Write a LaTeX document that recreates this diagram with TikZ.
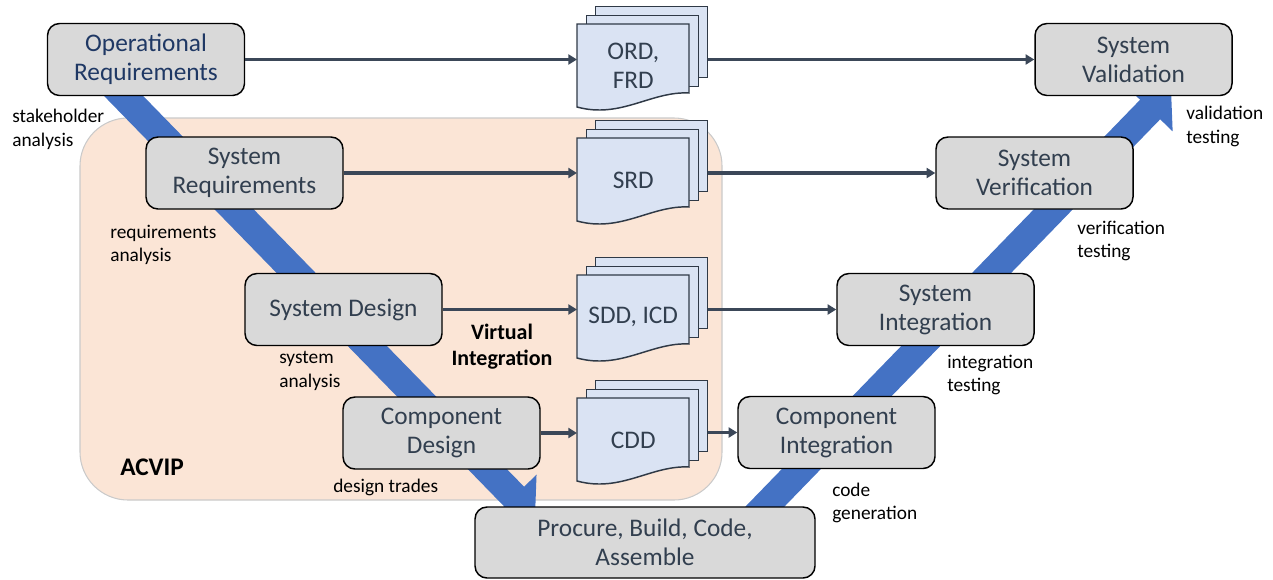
\documentclass[tikz,border=0pt]{standalone}
\usepackage{fontspec}
\setmainfont{Carlito}
\usetikzlibrary{arrows.meta}

\definecolor{boxgray}{HTML}{D9D9D9}
\definecolor{boxtext}{HTML}{323F4F}
\definecolor{opblue}{HTML}{1F3864}
\definecolor{flowline}{HTML}{3B4758}
\definecolor{docblue}{HTML}{DAE3F3}
\definecolor{vblue}{HTML}{4472C4}
\definecolor{acvipfill}{HTML}{FBE5D6}
\definecolor{acvipline}{HTML}{CACACA}

% stack of three sheets; #2,#3 = top-left corner of the front sheet
\newcommand\docstack[4]{%
  \node[sheet, anchor=north west] (#1c) at (#2+18,#3-18) {};
  \node[sheet, anchor=north west] (#1b) at (#2+9,#3-9) {};
  \draw[sheetline] (#2,#3) -- (#2+112,#3) -- (#2+112,#3+69)
      .. controls (#2+74,#3+67) and (#2+44,#3+95) .. (#2,#3+83) -- cycle;
  \node[doctext, anchor=north west] (#1) at (#2,#3) {#4};
}

\begin{document}
\begin{tikzpicture}[x=0.75pt,y=-0.75pt,
  stage/.style={draw=black, line width=1.1pt, fill=boxgray,
    rounded corners=9pt, text=boxtext, align=center, inner sep=0pt,
    font=\fontsize{19}{21.75}\selectfont,
    minimum width=147.75pt, minimum height=54pt},
  sheet/.style={draw=flowline!80!black, line width=1.1pt, fill=docblue,
    minimum width=84pt, minimum height=53.25pt, inner sep=0pt},
  sheetline/.style={draw=flowline!80!black, line width=1.1pt, fill=docblue},
  doctext/.style={text=boxtext, align=center, inner sep=0pt,
    font=\fontsize{19}{21.75}\selectfont,
    minimum width=84pt, minimum height=63pt},
  flow/.style={draw=flowline, line width=2.3pt,
    -{Triangle[length=6.5pt,width=7.5pt]}},
  vband/.style={draw=vblue, line width=21pt,
    -{Triangle[length=22.5pt,width=45.75pt]}},
  lbl/.style={font=\fontsize{14.5}{17.5}\selectfont, align=left,
    anchor=west, inner sep=0pt},
]
\useasboundingbox (0,0) rectangle (1273,579);

% ACVIP region
\draw[fill=acvipfill, draw=acvipline, line width=0.8pt, rounded corners=36pt]
  (80,118) rectangle (722,500);

% the two wide arrows of the V
\coordinate (vdownA) at (110,82);
\coordinate (vdownB) at (535,518);
\coordinate (vupA) at (749,523);
\coordinate (vupB) at (1171,88);
\draw[vband] (vdownA) -- (vdownB);
\draw[vband] (vupA) -- (vupB);

% stages
\node[stage, text=opblue] (opreq) at (146,59.5) {Operational\\Requirements};
\node[stage] (sysreq) at (244.5,173) {System\\Requirements};
\node[stage] (sysdes) at (343.5,309.5) {System Design};
\node[stage] (compdes) at (441.5,433) {Component\\Design};
\node[stage, minimum width=255pt, minimum height=53.25pt] (procure) at (645,542.5)
  {Procure, Build, Code,\\Assemble};
\node[stage] (compint) at (836.5,432.5) {Component\\Integration};
\node[stage] (sysint) at (935.5,309.5) {System\\Integration};
\node[stage] (sysver) at (1034.5,173) {System\\Verification};
\node[stage] (sysval) at (1133.5,59.5) {System\\Validation};

% documents
\docstack{ord}{577}{24}{ORD,\\FRD}
\docstack{srd}{577}{138}{SRD}
\docstack{sdd}{577}{275}{SDD, ICD}
\docstack{cdd}{577}{398}{CDD}

% document flow
\draw[flow] (opreq.east) -- (opreq.east -| ord.west);
\draw[flow] (ordc.east |- sysval.west) -- (sysval.west);
\draw[flow] (sysreq.east) -- (sysreq.east -| srd.west);
\draw[flow] (srdc.east |- sysver.west) -- (sysver.west);
\draw[flow] (sysdes.east) -- (sysdes.east -| sdd.west);
\draw[flow] (sddc.east |- sysint.west) -- (sysint.west);
\draw[flow] (compdes.east) -- (compdes.east -| cdd.west);
\draw[flow] (cddc.east |- compint.west) -- (compint.west);

% activity labels
\node[lbl] (lstake) at (12,129.5) {stakeholder\\analysis};
\node[lbl] (lreq) at (110,245) {requirements\\analysis};
\node[lbl] (lsys) at (279,371) {system\\analysis};
\node[lbl] (ltrades) at (333,487) {design trades};
\node[lbl] (lcode) at (832,503) {code\\generation};
\node[lbl] (linteg) at (947,375) {integration\\testing};
\node[lbl] (lverif) at (1077,241) {verification\\testing};
\node[lbl] (lvalid) at (1186,126.5) {validation\\testing};
\node[font=\bfseries\fontsize{16.5}{19.5}\selectfont, align=center, inner sep=0pt]
  (virt) at (502,346.5) {Virtual\\Integration};
\node[font=\bfseries\fontsize{19}{22}\selectfont, anchor=west, inner sep=0pt]
  (acvip) at (120,467) {ACVIP};
\end{tikzpicture}
\end{document}
